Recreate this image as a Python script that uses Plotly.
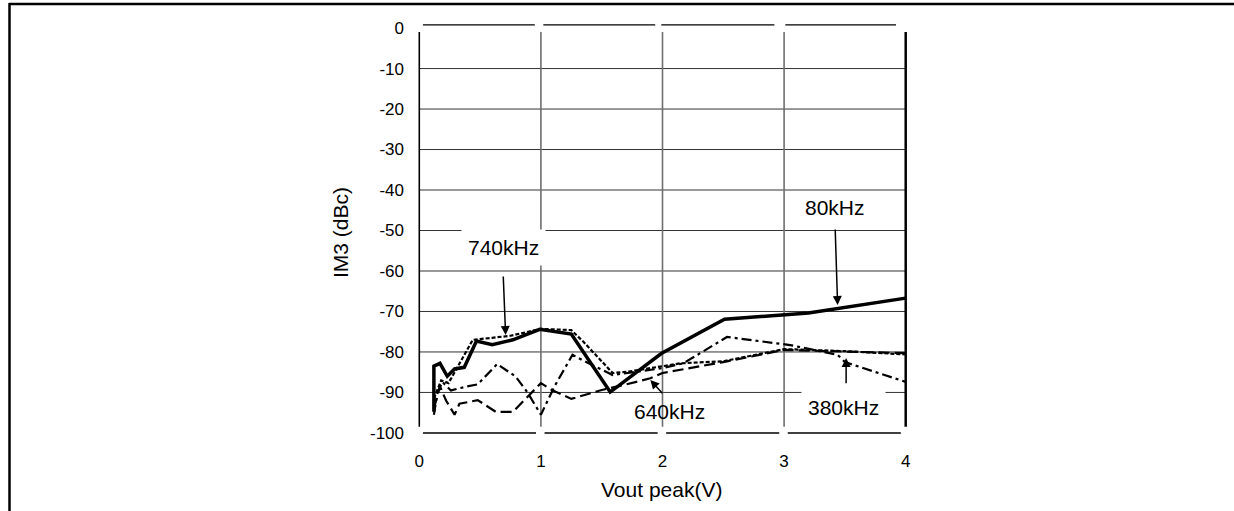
import plotly.graph_objects as go

# IM3 vs output voltage for four tone frequencies
x_80k = [0.12, 0.12, 0.17, 0.23, 0.29, 0.37, 0.47, 0.60, 0.77, 0.99, 1.25, 1.57, 1.99, 2.51, 3.20, 4.00]
y_80k = [-94.8, -83.5, -82.8, -86.0, -84.2, -83.8, -77.3, -78.2, -77.0, -74.4, -75.6, -89.9, -80.4, -71.9, -70.4, -66.7]

x_740k = [0.12, 0.18, 0.24, 0.31, 0.38, 0.44, 0.60, 0.75, 1.00, 1.25, 1.35, 1.59, 1.71, 1.82, 2.15, 2.50, 3.00, 3.50, 4.00]
y_740k = [-91.5, -87.0, -87.7, -84.0, -80.3, -77.0, -76.5, -76.0, -74.3, -74.6, -77.5, -85.2, -84.9, -84.4, -82.8, -82.3, -79.3, -79.8, -80.6]

x_640k = [0.12, 0.17, 0.22, 0.29, 0.33, 0.48, 0.63, 0.77, 1.00, 1.09, 1.25, 1.50, 1.69, 1.90, 2.00, 2.50, 3.00, 3.50, 4.00]
y_640k = [-94.0, -88.5, -92.0, -95.5, -92.8, -91.9, -94.8, -94.8, -87.7, -89.4, -91.6, -89.4, -88.1, -86.5, -85.2, -82.5, -79.5, -79.9, -80.3]

x_380k = [0.12, 0.15, 0.19, 0.26, 0.38, 0.48, 0.64, 0.79, 0.89, 1.00, 1.11, 1.26, 1.34, 1.59, 2.00, 2.17, 2.31, 2.53, 3.05, 3.44, 3.50, 4.00]
y_380k = [-95.5, -90.0, -87.4, -89.5, -88.6, -88.0, -83.0, -86.0, -90.0, -95.5, -88.6, -80.7, -82.0, -85.7, -84.0, -82.8, -80.3, -76.3, -78.3, -80.7, -82.5, -87.4]

y_ticks = [0, -10, -20, -30, -40, -50, -60, -70, -80, -90, -100]
x_ticks = [0, 1, 2, 3, 4]

FONT = "Liberation Sans, Arial, sans-serif"

# plot area in pixels (range -0.06..4.06, -101.5..1.5)
L, T, R_, B = 412, 22, 321, 72
W, H = 1234, 511
PW, PH = W - L - R_, H - T - B


def px(xp):
    return (xp - L) / PW


def py(yp):
    return (H - B - yp) / PH


fig = go.Figure()

fig.add_trace(go.Scatter(x=x_640k, y=y_640k, mode="lines", name="640kHz",
                         line=dict(color="black", width=2.2, dash="11px,5px")))
fig.add_trace(go.Scatter(x=x_380k, y=y_380k, mode="lines", name="380kHz",
                         line=dict(color="black", width=2.2, dash="10px,4px,3px,4px")))
fig.add_trace(go.Scatter(x=x_740k, y=y_740k, mode="lines", name="740kHz",
                         line=dict(color="black", width=2.2, dash="4px,2px")))
fig.add_trace(go.Scatter(x=x_80k, y=y_80k, mode="lines", name="80kHz",
                         line=dict(color="black", width=3.5)))

shapes = []
# horizontal grid
for v in y_ticks[1:-1]:
    shapes.append(dict(type="line", xref="x", yref="y", x0=0, x1=4, y0=v, y1=v,
                       line=dict(color="#333333", width=1), layer="below"))
# vertical grid / frame sides
for v in x_ticks:
    col = "black" if v in (0, 4) else "#6e6e6e"
    wid = 2.5 if v == 4 else 1.6
    shapes.append(dict(type="line", xref="x", yref="y", x0=v, x1=v, y0=-1, y1=-98.5,
                       line=dict(color=col, width=wid), layer="below"))
# broken top and bottom edges
for a, b in [(0.03, 0.95), (1.02, 1.94), (1.99, 2.92), (3.01, 3.92)]:
    shapes.append(dict(type="line", xref="x", yref="y", x0=a, x1=b, y0=0.8, y1=0.8,
                       line=dict(color="black", width=1.4), layer="below"))
for a, b in [(0.03, 0.96), (1.03, 1.96), (2.03, 2.96), (3.03, 3.96)]:
    shapes.append(dict(type="line", xref="x", yref="y", x0=a, x1=b, y0=-100, y1=-100,
                       line=dict(color="black", width=1.4), layer="below"))
# outer page frame (top and left)
shapes.append(dict(type="line", xref="paper", yref="paper", x0=px(9), x1=px(1234),
                   y0=py(4), y1=py(4), line=dict(color="black", width=2.5)))
shapes.append(dict(type="line", xref="paper", yref="paper", x0=px(9.5), x1=px(9.5),
                   y0=py(3), y1=py(511), line=dict(color="black", width=2.5)))

annotations = []
labels = [
    ("740kHz", 0.69, -54.3, (0.69, -61.0), (0.71, -75.8), "white"),
    ("80kHz", 3.42, -44.2, (3.42, -49.4), (3.44, -68.4), None),
    ("640kHz", 2.06, -94.8, (2.01, -90.6), (1.90, -86.9), None),
    ("380kHz", 3.49, -93.8, (3.51, -88.1), (3.51, -81.5), "white"),
]
for txt, tx, ty, tail, tip, bg in labels:
    annotations.append(dict(x=tx, y=ty, xref="x", yref="y", text=txt, showarrow=False,
                            xanchor="center", yanchor="middle",
                            font=dict(family=FONT, size=21, color="black"),
                            bgcolor=bg if bg else "rgba(0,0,0,0)", borderpad=6))
    annotations.append(dict(x=tip[0], y=tip[1], ax=tail[0], ay=tail[1], xref="x", yref="y",
                            axref="x", ayref="y", text="", showarrow=True,
                            arrowhead=2, arrowsize=1.2, arrowwidth=1.5, arrowcolor="black"))

annotations.append(dict(x=px(661), y=py(490), xref="paper", yref="paper", text="Vout peak(V)",
                        xanchor="center", yanchor="middle", showarrow=False,
                        font=dict(family=FONT, size=21, color="black")))
annotations.append(dict(x=px(341), y=py(233), xref="paper", yref="paper", text="IM3 (dBc)",
                        xanchor="center", yanchor="middle", textangle=-90, showarrow=False,
                        font=dict(family=FONT, size=21, color="black")))

fig.update_layout(
    width=W, height=H,
    margin=dict(l=L, r=R_, t=T, b=B),
    plot_bgcolor="white", paper_bgcolor="white",
    showlegend=False,
    shapes=shapes,
    annotations=annotations,
    font=dict(family=FONT, size=17, color="black"),
    xaxis=dict(range=[-0.06, 4.06], tickvals=x_ticks, ticktext=[str(v) for v in x_ticks],
               showgrid=False, zeroline=False, showline=False, ticks="",
               ticklabelstandoff=10, tickfont=dict(family=FONT, size=17)),
    yaxis=dict(range=[-101.5, 1.5], tickvals=y_ticks, ticktext=[str(v) for v in y_ticks],
               showgrid=False, zeroline=False, showline=False, ticks="",
               ticklabelstandoff=7, tickfont=dict(family=FONT, size=17)),
)

# page body margin would shift the figure by 8px
fig.write_html("out.html", config={"displayModeBar": False},
               post_script="document.body.style.margin='0';document.body.style.overflow='hidden';")
